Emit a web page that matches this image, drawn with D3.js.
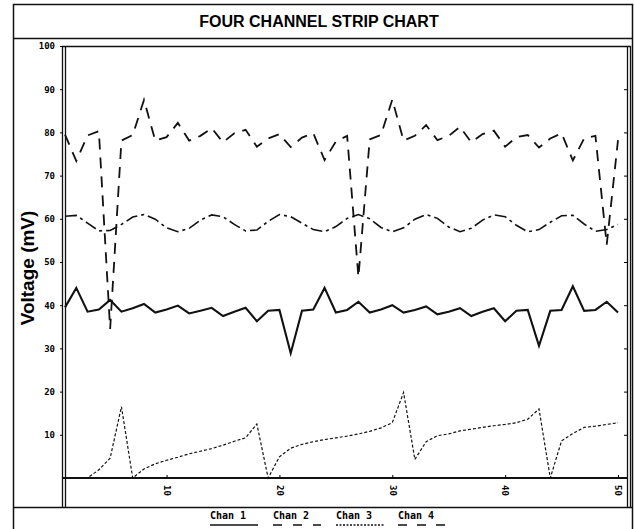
<!DOCTYPE html>
<html>
<head>
<meta charset="utf-8">
<script src="https://cdn.jsdelivr.net/npm/d3@7/dist/d3.min.js"></script>
<style>
  body { margin: 0; background: #fff; }
  svg { display: block; }
</style>
</head>
<body>
<div id="chart"></div>
<script>
// Readings per sample (samples 1..50), mV
const chan1 = [39.5, 44, 38.5, 39, 41.2, 38.5, 39.3, 40.3, 38.3, 39,
               39.9, 38.1, 38.7, 39.4, 37.5, 38.5, 39.4, 36.3, 38.7, 38.9,
               28.9, 38.7, 39, 44, 38.3, 38.9, 40.8, 38.3, 39, 40,
               38.3, 38.9, 39.7, 37.9, 38.5, 39.3, 37.5, 38.5, 39.3, 36.3,
               38.7, 38.9, 30.6, 38.7, 38.9, 44.4, 38.7, 38.9, 40.8, 38.3];
const chan2 = [79.5, 73.4, 79.3, 80.3, 34.5, 78.1, 79.4, 87.5, 78.1, 78.9,
               82.2, 78.1, 79.2, 81, 77.7, 79.8, 80.6, 76.7, 78.6, 79.6,
               76.6, 78.8, 79.8, 73.6, 77.9, 79.2, 46.5, 78.4, 79.4, 87.6,
               78.1, 79.2, 81.7, 78.2, 79.2, 81.3, 77.7, 79.6, 80.4, 76.7,
               78.9, 79.4, 76.5, 78.6, 79.8, 73.5, 78.6, 79.2, 54, 78.2];
const chan3 = [0, 0, 0, 1.9, 4.6, 16.5, 0, 2.1, 3.3, 4.1,
               4.8, 5.6, 6.2, 6.8, 7.6, 8.5, 9.3, 12.5, 0, 4.9,
               6.9, 7.8, 8.4, 8.9, 9.3, 9.7, 10.2, 10.8, 11.6, 12.8,
               19.8, 4.3, 8.4, 9.8, 10.2, 10.9, 11.3, 11.7, 12.1, 12.4,
               12.8, 13.6, 16, 0, 8.6, 10.3, 11.7, 12, 12.4, 12.8];
const chan4 = [60.6, 60.8, 59, 57.2, 57.3, 58.7, 60.4, 61, 59.9, 57.9,
               57, 57.8, 59.7, 60.9, 60.5, 58.7, 57.2, 57.4, 59.4, 61,
               60.5, 59, 57.5, 57, 58.2, 60.1, 61, 60, 58, 57,
               57.9, 59.9, 61, 60.1, 58.1, 57, 57.8, 59.7, 60.9, 60.5,
               58.5, 57, 57.5, 59.2, 60.7, 60.8, 58.8, 57.1, 57.5, 58.7];

const channelNames = ["Chan 1", "Chan 2", "Chan 3", "Chan 4"];
const yTicks = [10, 20, 30, 40, 50, 60, 70, 80, 90, 100];
const xTicks = [10, 20, 30, 40, 50];

// Styles per channel
const styles = [
    {width: 2.1, dash: null},
    {width: 1.8, dash: "11,8"},
    {width: 1.2, dash: "3,2"},
    {width: 1.6, dash: "12,4,3,4"}
];
const legendDash = [null, "9,11", "2,1.5", "9,10"];

const W = 634, H = 529;
const svg = d3.select("#chart").append("svg")
    .attr("width", W)
    .attr("height", H)
    .style("font-family", "'DejaVu Sans Mono', monospace");

// Scales
const x = d3.scaleLinear().domain([1, 50]).range([65, 618]);
const y = d3.scaleLinear().domain([0, 100]).range([478, 46]);

// Frames
const frame = svg.append("g").attr("stroke", "#111").attr("fill", "none");
frame.append("rect").attr("x", 13.5).attr("y", 4.5).attr("width", 619).attr("height", 540).attr("stroke-width", 1.5);
frame.append("line").attr("x1", 13).attr("x2", 633).attr("y1", 38.5).attr("y2", 38.5).attr("stroke-width", 1.5);
frame.append("line").attr("x1", 62).attr("x2", 631).attr("y1", 46.5).attr("y2", 46.5).attr("stroke-width", 1.5);
frame.append("line").attr("x1", 13).attr("x2", 633).attr("y1", 507.5).attr("y2", 507.5).attr("stroke-width", 1.5);
[62.5, 65.5, 627.5, 630.5].forEach(px => {
    frame.append("line").attr("x1", px).attr("x2", px).attr("y1", 46).attr("y2", 508).attr("stroke-width", 1.3);
});
// zero line
frame.append("line").attr("x1", 63).attr("x2", 628).attr("y1", y(0)).attr("y2", y(0)).attr("stroke-width", 1.8);

// Title
svg.append("text")
    .attr("x", 319)
    .attr("y", 27)
    .attr("text-anchor", "middle")
    .style("font-family", "'Liberation Sans', Arial, sans-serif")
    .style("font-weight", "bold")
    .style("font-size", "16px")
    .text("FOUR CHANNEL STRIP CHART");

// Y axis label
svg.append("text")
    .attr("transform", "translate(34,268) rotate(-90)")
    .attr("text-anchor", "middle")
    .style("font-family", "'Liberation Sans', Arial, sans-serif")
    .style("font-weight", "bold")
    .style("font-size", "19px")
    .text("Voltage (mV)");

// Y axis
const yAxis = svg.append("g")
    .attr("transform", "translate(63,0)")
    .call(d3.axisLeft(y).tickValues(yTicks).tickSize(3).tickPadding(5));
yAxis.select(".domain").remove();
yAxis.selectAll("text").style("font-size", "9px").style("font-weight", "bold")
    .style("font-family", "'DejaVu Sans Mono', monospace");

// right side ticks
const yAxisR = svg.append("g")
    .attr("transform", "translate(627,0)")
    .call(d3.axisLeft(y).tickValues(yTicks).tickSize(3).tickFormat(""));
yAxisR.select(".domain").remove();

// X axis
const xAxis = svg.append("g")
    .attr("transform", `translate(0,${y(0)})`)
    .call(d3.axisBottom(x).tickValues(xTicks).tickSizeInner(-3).tickSizeOuter(0));
xAxis.select(".domain").remove();
xAxis.selectAll("text")
    .attr("y", 0)
    .attr("x", 7)
    .attr("dy", "0.35em")
    .attr("transform", "rotate(90)")
    .style("text-anchor", "start")
    .style("font-size", "9px")
    .style("font-weight", "bold")
    .style("font-family", "'DejaVu Sans Mono', monospace");

// Lines
const line = d3.line()
    .x((d, i) => x(i + 1))
    .y(d => y(d));

[chan1, chan2, chan3, chan4].forEach((data, k) => {
    svg.append("path")
        .datum(data)
        .attr("fill", "none")
        .attr("stroke", "#111")
        .attr("stroke-width", styles[k].width)
        .attr("stroke-dasharray", styles[k].dash)
        .attr("stroke-linejoin", "miter")
        .attr("d", line);
});

// Legend
const legendX = [210, 273, 336, 398];
channelNames.forEach((name, k) => {
    svg.append("text")
        .attr("x", legendX[k])
        .attr("y", 519)
        .style("font-size", "10px")
        .style("font-weight", "bold")
        .text(name);
    svg.append("line")
        .attr("x1", legendX[k])
        .attr("x2", legendX[k] + 48)
        .attr("y1", 525)
        .attr("y2", 525)
        .attr("stroke", "#111")
        .attr("stroke-width", 1.6)
        .attr("stroke-dasharray", legendDash[k]);
});
</script>
</body>
</html>
